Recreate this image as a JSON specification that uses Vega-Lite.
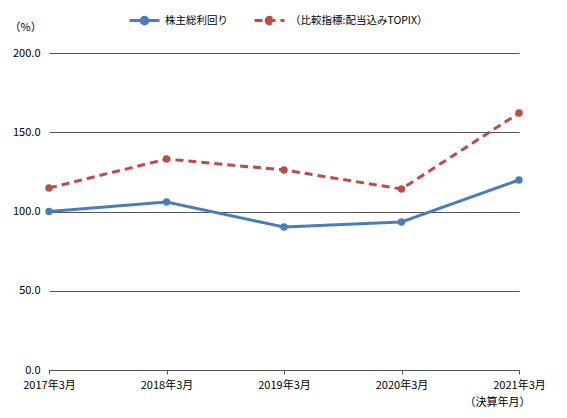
{
  "$schema": "https://vega.github.io/schema/vega-lite/v6.json",
  "width": 470,
  "height": 317,
  "autosize": {"type": "none"},
  "padding": {"left": 49, "top": 53, "right": 48, "bottom": 48},
  "background": "white",
  "config": {
    "font": "Noto Sans CJK JP",
    "view": {"stroke": null},
    "axis": {"labelFont": "Noto Sans CJK JP", "titleFont": "Noto Sans CJK JP", "labelColor": "#000", "titleColor": "#000", "labelFontSize": 11, "titleFontSize": 11, "titleFontWeight": "normal"},
    "legend": {"labelFont": "Noto Sans CJK JP", "labelFontSize": 10.5, "labelColor": "#000"}
  },
  "data": {
    "values": [
      {"date": "2017年3月", "series": "株主総利回り", "value": 100.0},
      {"date": "2018年3月", "series": "株主総利回り", "value": 106.0},
      {"date": "2019年3月", "series": "株主総利回り", "value": 90.2},
      {"date": "2020年3月", "series": "株主総利回り", "value": 93.4},
      {"date": "2021年3月", "series": "株主総利回り", "value": 119.9},
      {"date": "2017年3月", "series": "（比較指標:配当込みTOPIX）", "value": 114.8},
      {"date": "2018年3月", "series": "（比較指標:配当込みTOPIX）", "value": 133.1},
      {"date": "2019年3月", "series": "（比較指標:配当込みTOPIX）", "value": 126.2},
      {"date": "2020年3月", "series": "（比較指標:配当込みTOPIX）", "value": 114.2},
      {"date": "2021年3月", "series": "（比較指標:配当込みTOPIX）", "value": 162.1}
    ]
  },
  "encoding": {
    "x": {
      "field": "date", "type": "ordinal", "sort": null,
      "scale": {"type": "point", "padding": 0},
      "axis": {"title": "（決算年月）", "titleAnchor": "end", "titleX": 481, "titleY": 26, "titleAlign": "right", "labelAngle": 0, "labelPadding": 5, "domainColor": "#555", "tickColor": "#555", "tickSize": 4, "grid": false, "domainWidth": 1}
    },
    "y": {
      "field": "value", "type": "quantitative",
      "scale": {"domain": [0, 200]},
      "axis": {"values": [0, 50, 100, 150, 200], "format": ".1f", "title": "（%）", "titleAngle": 0, "titleX": -40, "titleY": -26, "titleAlign": "left", "titleBaseline": "middle", "domain": false, "ticks": false, "labelPadding": 9, "grid": true, "gridColor": "#555", "gridWidth": 1}
    },
    "color": {
      "field": "series", "type": "nominal", "sort": ["株主総利回り", "（比較指標:配当込みTOPIX）"],
      "scale": {"domain": ["株主総利回り", "（比較指標:配当込みTOPIX）"], "range": ["#4a7ebb", "#be4b48"]},
      "legend": {"title": null, "orient": "none", "direction": "horizontal", "legendX": 79, "legendY": -49, "columnPadding": 20, "labelOffset": 4, "symbolType": "M-1,0L1,0M-0.22,0A0.22,0.22,0,1,1,0.22,0A0.22,0.22,0,1,1,-0.22,0Z", "symbolStrokeWidth": 3, "symbolSize": 900}
    }
  },
  "layer": [
    {
      "mark": {"type": "line", "strokeWidth": 3},
      "encoding": {
        "strokeDash": {
          "field": "series", "type": "nominal",
          "scale": {"domain": ["株主総利回り", "（比較指標:配当込みTOPIX）"], "range": [[1, 0], [8, 5]]},
          "legend": {"title": null, "orient": "none", "direction": "horizontal", "legendX": 79, "legendY": -49, "columnPadding": 20, "labelOffset": 4, "symbolType": "M-1,0L1,0M-0.22,0A0.22,0.22,0,1,1,0.22,0A0.22,0.22,0,1,1,-0.22,0Z", "symbolStrokeWidth": 3, "symbolSize": 900}
        }
      }
    },
    {
      "mark": {"type": "point", "filled": true, "size": 55, "opacity": 1},
      "encoding": {}
    }
  ]
}
